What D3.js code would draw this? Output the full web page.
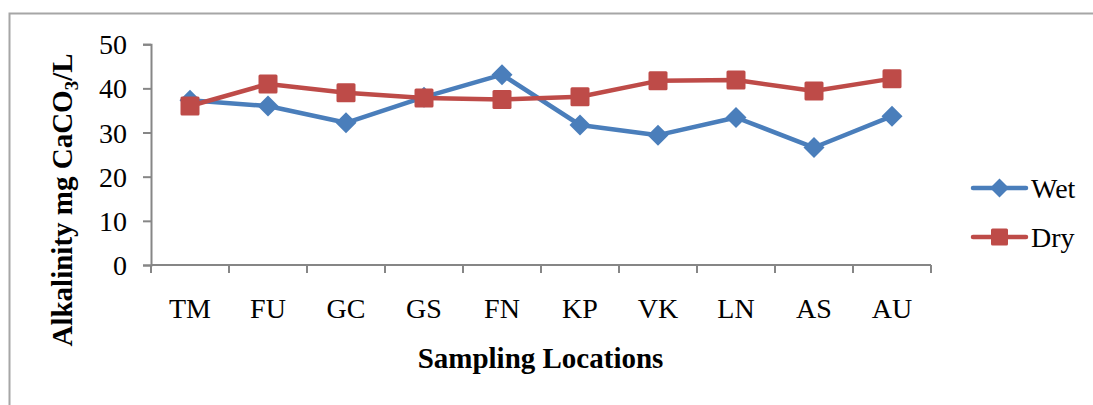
<!DOCTYPE html>
<html>
<head>
<meta charset="utf-8">
<script src="https://cdn.jsdelivr.net/npm/d3@7"></script>
<style>
  html, body { margin: 0; padding: 0; background: #fff; }
  svg { display: block; }
  text { font-family: "Liberation Serif", "Times New Roman", serif; fill: #000; }
</style>
</head>
<body>
<svg id="chart" width="1093" height="405"></svg>
<script>
// Alkalinity by sampling location, wet vs dry season
const locations = ["TM", "FU", "GC", "GS", "FN", "KP", "VK", "LN", "AS", "AU"];
const wetValues = [37.3, 36.0, 32.2, 38.0, 43.1, 31.7, 29.4, 33.4, 26.6, 33.7];
const dryValues = [36.0, 41.0, 39.0, 37.8, 37.5, 38.1, 41.7, 41.9, 39.4, 42.2];
const yTicks = [0, 10, 20, 30, 40, 50];
const seriesNames = ["Wet", "Dry"];

const svg = d3.select("#chart");
const W = 1093, H = 405;
const plot = { left: 151, right: 931, top: 44.2, bottom: 265 };
const axisColor = "#868686";
const colors = { Wet: "#4a7ebb", Dry: "#be4b48" };
const tickFont = 28, titleFont = 29;

// outer chart frame
svg.append("rect")
  .attr("x", 9.5).attr("y", 13.5)
  .attr("width", W + 20).attr("height", H + 20)
  .attr("fill", "none").attr("stroke", "#a6a6a6").attr("stroke-width", 2);

const x = d3.scaleBand().domain(locations).range([plot.left, plot.right]).padding(0);
const y = d3.scaleLinear().domain([0, 50]).range([plot.bottom, plot.top]);

// y axis
const yAxis = svg.append("g")
  .attr("transform", `translate(${plot.left},0)`)
  .call(d3.axisLeft(y).tickValues(yTicks).tickSize(8).tickPadding(16).tickFormat(d3.format("d")));
yAxis.attr("font-family", null);
yAxis.select(".domain").attr("stroke", axisColor).attr("stroke-width", 2);
yAxis.selectAll(".tick line").attr("stroke", axisColor).attr("stroke-width", 2);
yAxis.selectAll("text")
  .attr("font-size", tickFont).attr("fill", "#000")
  .attr("dy", "0.34em");

// x axis: ticks at band boundaries, labels centred in each band
const xAxisG = svg.append("g").attr("transform", `translate(0,${plot.bottom})`);
xAxisG.append("line")
  .attr("x1", plot.left).attr("x2", plot.right)
  .attr("stroke", axisColor).attr("stroke-width", 2);
const bounds = locations.map(d => x(d)).concat([x(locations[locations.length - 1]) + x.bandwidth()]);
xAxisG.selectAll("line.tick").data(bounds).join("line")
  .attr("class", "tick")
  .attr("x1", d => d).attr("x2", d => d)
  .attr("y1", 0).attr("y2", 8)
  .attr("stroke", axisColor).attr("stroke-width", 2);
xAxisG.selectAll("text").data(locations).join("text")
  .attr("x", d => x(d) + x.bandwidth() / 2)
  .attr("y", 53)
  .attr("text-anchor", "middle")
  .attr("font-size", tickFont)
  .text(d => d);

// axis titles
svg.append("text")
  .attr("x", 540.5)
  .attr("y", 368)
  .attr("text-anchor", "middle")
  .attr("font-size", titleFont).attr("font-weight", "bold")
  .text("Sampling Locations");

const yTitle = svg.append("text")
  .attr("transform", "translate(72,200) rotate(-90)")
  .attr("text-anchor", "middle")
  .attr("font-size", titleFont).attr("font-weight", "bold");
yTitle.append("tspan").text("Alkalinity mg CaCO");
yTitle.append("tspan").attr("font-size", 19).attr("dy", 6).text("3");
yTitle.append("tspan").attr("dy", -6).text("/L");

const cx = d => x(d) + x.bandwidth() / 2;
const series = [
  { name: "Wet", values: wetValues },
  { name: "Dry", values: dryValues }
];

const line = d3.line().x((d, i) => cx(locations[i])).y(d => y(d));

function drawMarker(g, s, px, py, size) {
  const r = size / 2;
  if (s.name === "Wet") {
    g.append("path")
      .attr("d", `M${px},${py - r}L${px + r},${py}L${px},${py + r}L${px - r},${py}Z`)
      .attr("fill", colors[s.name]);
  } else {
    g.append("rect")
      .attr("x", px - r).attr("y", py - r)
      .attr("width", size).attr("height", size)
      .attr("rx", 1.5)
      .attr("fill", colors[s.name]);
  }
}

series.forEach(s => {
  const g = svg.append("g");
  g.append("path")
    .datum(s.values)
    .attr("d", line)
    .attr("fill", "none")
    .attr("stroke", colors[s.name])
    .attr("stroke-width", 4.5)
    .attr("stroke-linejoin", "round");
  s.values.forEach((v, i) => {
    drawMarker(g, s, cx(locations[i]), y(v), s.name === "Wet" ? 21 : 19);
  });
});

// legend
const legend = svg.append("g");
series.forEach((s, i) => {
  const ly = 188 + i * 49;
  const g = legend.append("g");
  g.append("line")
    .attr("x1", 973).attr("x2", 1026)
    .attr("y1", ly).attr("y2", ly)
    .attr("stroke", colors[s.name]).attr("stroke-width", 4.5)
    .attr("stroke-linecap", "round");
  drawMarker(g, s, 999.5, ly, s.name === "Wet" ? 19 : 17);
  g.append("text")
    .attr("x", 1031).attr("y", ly + 10)
    .attr("font-size", tickFont)
    .text(s.name);
});
</script>
</body>
</html>
